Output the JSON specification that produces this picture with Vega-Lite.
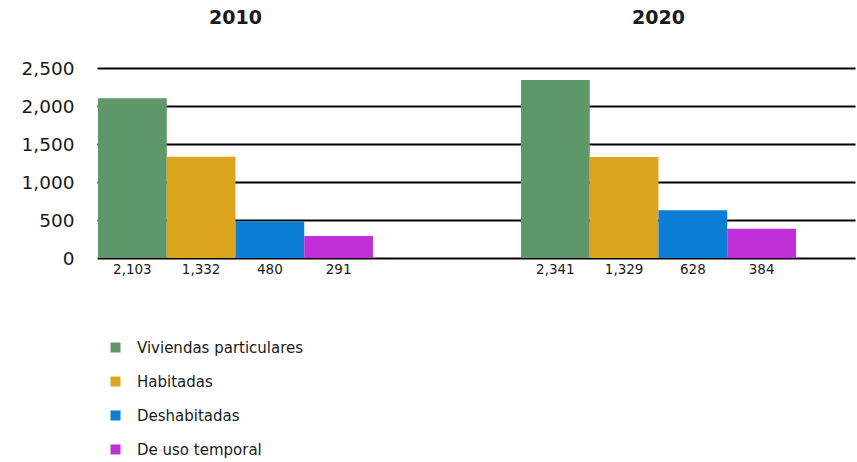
{
  "$schema": "https://vega.github.io/schema/vega-lite/v6.json",
  "width": 758,
  "height": 190,
  "autosize": {"type": "none"},
  "padding": {"left": 97, "top": 68, "right": 2, "bottom": 204},
  "background": "white",
  "config": {
    "font": "DejaVu Sans",
    "view": {"stroke": null}
  },
  "data": {
    "values": [
      {"year": "2010", "cat": "Viviendas particulares", "value": 2103},
      {"year": "2010", "cat": "Habitadas", "value": 1332},
      {"year": "2010", "cat": "Deshabitadas", "value": 480},
      {"year": "2010", "cat": "De uso temporal", "value": 291},
      {"year": "2020", "cat": "Viviendas particulares", "value": 2341},
      {"year": "2020", "cat": "Habitadas", "value": 1329},
      {"year": "2020", "cat": "Deshabitadas", "value": 628},
      {"year": "2020", "cat": "De uso temporal", "value": 384}
    ]
  },
  "resolve": {"axis": {"y": "independent"}},
  "encoding": {
    "x": {
      "field": "year", "type": "nominal",
      "scale": {"paddingInner": 0.35, "paddingOuter": 0.071, "align": 0.017},
      "axis": {"orient": "top", "title": null, "domain": false, "ticks": false, "grid": false,
               "labelAngle": 0, "labelFontSize": 19, "labelFontWeight": "bold", "labelColor": "#1a1a1a", "labelPadding": 41}
    },
    "xOffset": {
      "field": "cat", "type": "nominal",
      "sort": ["Viviendas particulares", "Habitadas", "Deshabitadas", "De uso temporal"],
      "scale": {"paddingInner": 0, "paddingOuter": 0}
    }
  },
  "layer": [
    {
      "mark": {"type": "bar"},
      "encoding": {
        "y": {
          "field": "value", "type": "quantitative",
          "scale": {"domain": [0, 2500], "nice": false},
          "axis": {"title": null, "values": [0, 500, 1000, 1500, 2000, 2500], "format": ",d", "labelOverlap": false,
                   "domain": false, "ticks": false, "grid": true, "gridColor": "#000000", "gridWidth": 2, "gridOpacity": 1,
                   "labelFontSize": 18.5, "labelColor": "#1a1a1a", "labelPadding": 23}
        },
        "color": {
          "field": "cat", "type": "nominal",
          "sort": ["Viviendas particulares", "Habitadas", "Deshabitadas", "De uso temporal"],
          "scale": {"domain": ["Viviendas particulares", "Habitadas", "Deshabitadas", "De uso temporal"],
                    "range": ["#5e976a", "#dda41e", "#0b7dd5", "#c02ed8"]},
          "legend": {
            "title": null, "orient": "none", "legendX": 11, "legendY": 272,
            "direction": "vertical", "symbolType": "square", "symbolSize": 100, "symbolStrokeWidth": 0,
            "labelFontSize": 15, "labelColor": "#1a1a1a", "labelOffset": 14, "rowPadding": 18, "labelLimit": 400
          }
        }
      }
    },
    {
      "mark": {"type": "text", "baseline": "top", "dy": 5, "fontSize": 13.5, "color": "#1a1a1a"},
      "encoding": {
        "y": {"datum": 0, "type": "quantitative", "axis": null},
        "text": {"field": "value", "type": "quantitative", "format": ","}
      }
    }
  ]
}
